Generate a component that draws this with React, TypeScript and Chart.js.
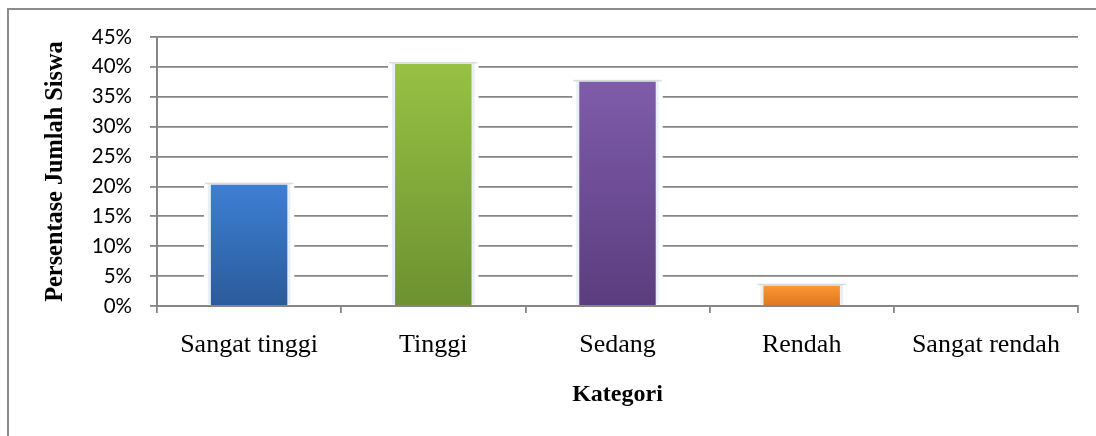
import React, { useEffect, useRef } from "react";
import { Chart, registerables } from "chart.js";

Chart.register(...registerables);

const categories = ["Sangat tinggi", "Tinggi", "Sedang", "Rendah", "Sangat rendah"];
const percentages = [20.3, 40.5, 37.5, 3.4, 0];
const yTicks = [0, 5, 10, 15, 20, 25, 30, 35, 40, 45];
const barTopColors = ["#3d7fd3", "#97c144", "#7e5caa", "#fa9832", "#888888"];
const barBottomColors = ["#2b5b9a", "#6c9131", "#5b3d7e", "#df761e", "#666666"];
const yTitle = "Persentase Jumlah Siswa";
const xTitle = "Kategori";

const haloPlugin = {
  id: "barHalo",
  beforeDatasetsDraw(chart: any) {
    const ctx = chart.ctx;
    const meta = chart.getDatasetMeta(0);
    ctx.save();
    meta.data.forEach((bar: any, i: number) => {
      if (!percentages[i]) return;
      const { x, y, base, width } = bar.getProps(["x", "y", "base", "width"], true);
      if (![x, y, base, width].every((n) => Number.isFinite(n))) return;
      const top = y - 1;
      const h = base - top - 1;
      ctx.fillStyle = "#ffffff";
      ctx.fillRect(x - width / 2 - 7, top, width + 14, h);
      ctx.fillStyle = "rgba(215,225,235,0.55)";
      ctx.fillRect(x - width / 2 - 3, top, width + 6, h);
      ctx.fillStyle = "rgba(170,170,170,0.4)";
      ctx.fillRect(x - width / 2 - 6, top - 1, width + 12, 1.5);
    });
    ctx.restore();
  },
};

export default function App() {
  const ref = useRef<HTMLCanvasElement | null>(null);

  useEffect(() => {
    if (!ref.current) return;
    const chart = new Chart(ref.current, {
      type: "bar",
      data: {
        labels: categories,
        datasets: [
          {
            data: percentages,
            backgroundColor: (c: any) => {
              const i = c.dataIndex;
              const ch = c.chart;
              const ys = ch.scales && ch.scales.y;
              if (i === undefined) return barTopColors[0];
              const fallback = barTopColors[i % barTopColors.length];
              if (!ys) return fallback;
              const top = ys.getPixelForValue(percentages[i]);
              const bottom = ys.getPixelForValue(0);
              if (!Number.isFinite(top) || !Number.isFinite(bottom) || bottom - top < 1) return fallback;
              const g = ch.ctx.createLinearGradient(0, top, 0, bottom);
              g.addColorStop(0, barTopColors[i % barTopColors.length]);
              g.addColorStop(1, barBottomColors[i % barBottomColors.length]);
              return g;
            },
            borderWidth: 0,
            barPercentage: 0.415,
            categoryPercentage: 1,
          },
        ],
      },
      options: {
        animation: false,
        responsive: true,
        maintainAspectRatio: false,
        layout: { padding: { left: 0, top: 37, right: 18, bottom: 0 } },
        plugins: {
          legend: { display: false },
          tooltip: { enabled: false },
        },
        scales: {
          x: {
            offset: true,
            afterFit: (s: any) => {
              s.height = 130;
            },
            grid: {
              offset: true,
              drawOnChartArea: false,
              drawTicks: true,
              tickLength: 7,
              color: "#868686",
              lineWidth: 1.8,
            },
            border: { display: true, color: "#868686", width: 2 },
            ticks: {
              padding: 17,
              color: "#000",
              font: { family: "'Liberation Serif', 'Times New Roman', serif", size: 26 },
              maxRotation: 0,
            },
            title: {
              display: true,
              text: xTitle,
              color: "#000",
              padding: { top: 0, bottom: 27 },
              font: { family: "'Liberation Serif', 'Times New Roman', serif", size: 24, weight: "bold" },
            },
          },
          y: {
            min: 0,
            max: 45,
            afterFit: (s: any) => {
              s.width = 157;
            },
            afterBuildTicks: (s: any) => {
              s.ticks = yTicks.map((v) => ({ value: v }));
            },
            grid: {
              color: "#868686",
              lineWidth: 1.8,
              tickLength: 7,
            },
            border: { display: true, color: "#868686", width: 2 },
            ticks: {
              padding: 18,
              color: "#000",
              font: { family: "Lato, 'Open Sans', sans-serif", size: 20.5 },
              callback: (v: any) => `${v}%`,
            },
            title: {
              display: true,
              text: yTitle,
              color: "#000",
              padding: { top: 41, bottom: 0 },
              font: { family: "'Liberation Serif', 'Times New Roman', serif", size: 24.3, weight: "bold" },
            },
          },
        },
      },
      plugins: [haloPlugin],
    });
    return () => chart.destroy();
  }, []);

  return (
    <div
      style={{
        position: "fixed",
        left: 0,
        top: 0,
        width: 1096,
        height: 436,
        overflow: "hidden",
        background: "#fff",
      }}
    >
      <div
        style={{
          position: "absolute",
          left: 7,
          top: 8,
          width: 1200,
          height: 600,
          borderLeft: "2px solid #8c8c8c",
          borderTop: "2px solid #8c8c8c",
          boxSizing: "border-box",
        }}
      />
      <div style={{ position: "absolute", left: 0, top: 0, width: 1096, height: 436 }}>
        <canvas ref={ref} />
      </div>
    </div>
  );
}
